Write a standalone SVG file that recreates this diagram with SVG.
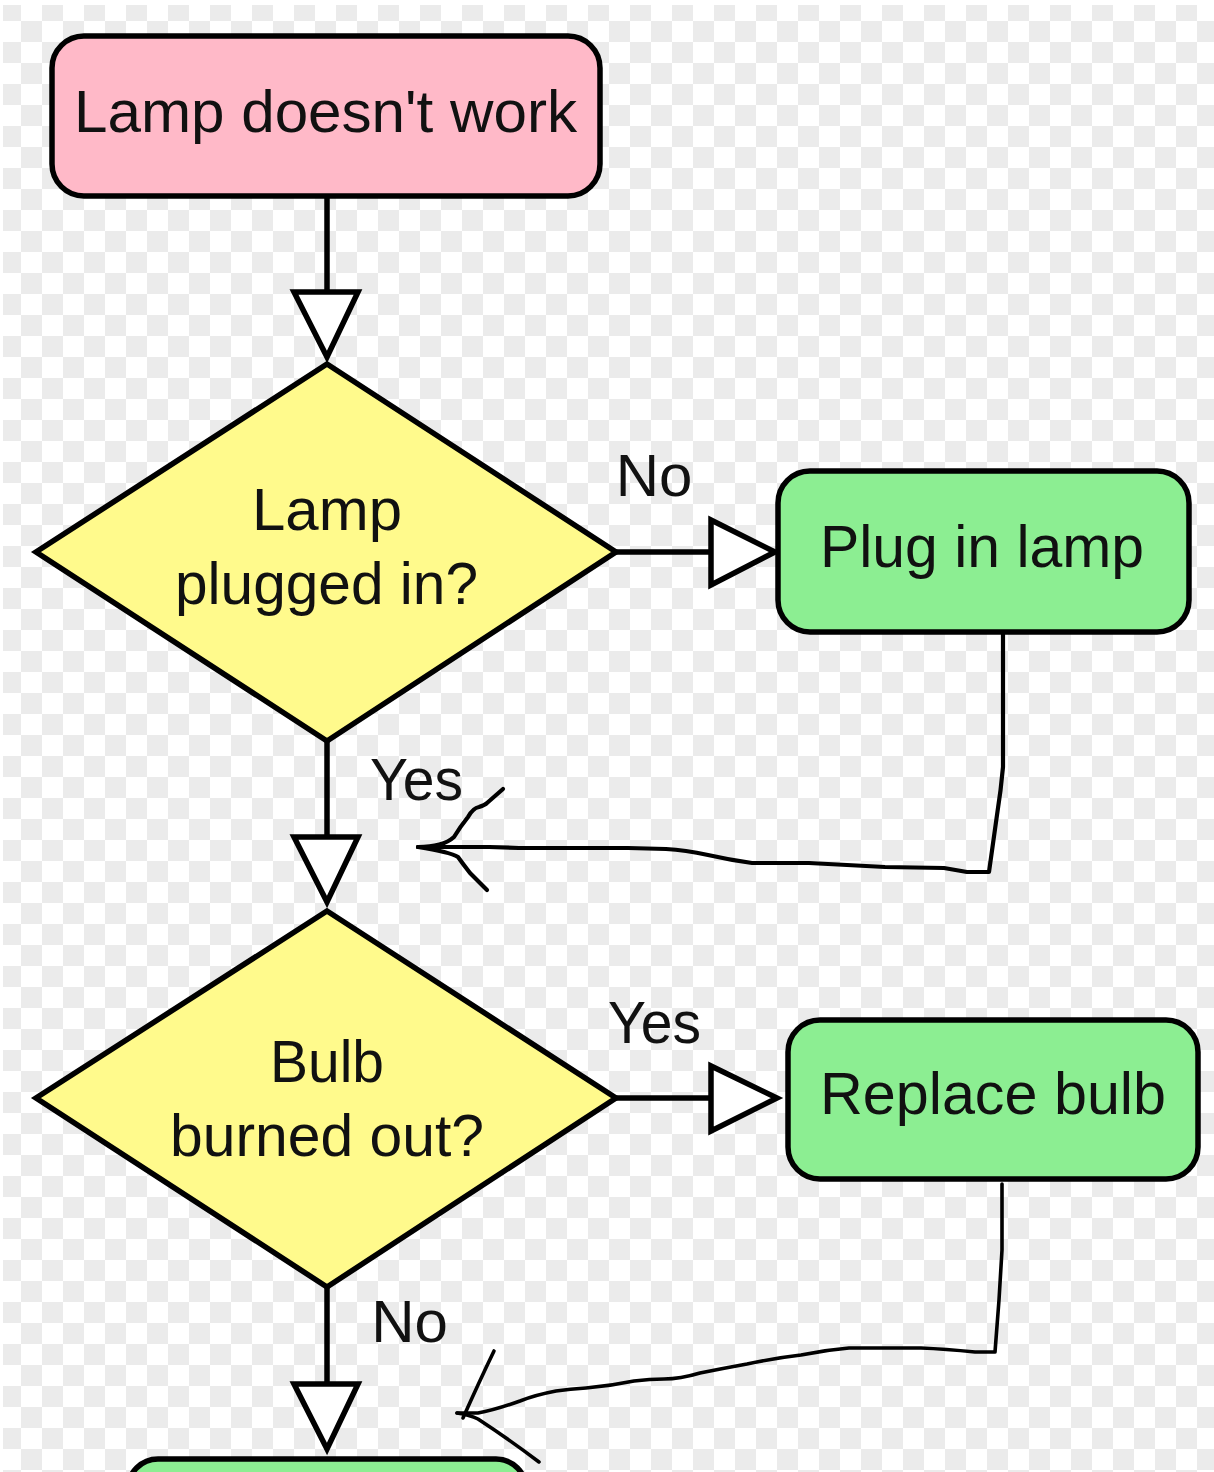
<svg xmlns="http://www.w3.org/2000/svg" width="1214" height="1472" viewBox="0 0 1214 1472">
<style>
.box{stroke:#000;stroke-width:5.5}
.start{fill:#ffb9c8}
.end{fill:#8cee92}
.dec{fill:#fffa8c}
.t{font-family:"Liberation Sans",Arial,sans-serif;font-size:60px;fill:#111;text-anchor:middle}
.wire{fill:none;stroke:#000;stroke-width:5.5}
.head{fill:#fff;stroke:#000;stroke-width:5.5}
.hand{fill:none;stroke:#000;stroke-width:4.2;stroke-linecap:round;stroke-linejoin:round}
.hand2{fill:none;stroke:#000;stroke-width:3.6;stroke-linecap:round;stroke-linejoin:round}
</style>
<defs>
<pattern id="checker" width="42" height="42" patternUnits="userSpaceOnUse">
<rect width="42" height="42" fill="#fff"/>
<rect width="21" height="21" fill="#ebebeb"/>
<rect x="21" y="21" width="21" height="21" fill="#ebebeb"/>
</pattern>
</defs>
<rect width="1214" height="1472" fill="#fff"/>
<rect x="3" y="5" width="1211" height="1467" fill="url(#checker)"/>
<g id="connectors">
<path class="wire" d="M327 196V292"/>
<polygon class="head" points="294,292 358,292 327,357"/>
<path class="wire" d="M616 552H711"/>
<polygon class="head" points="711,520 711,585 775,552"/>
<path class="wire" d="M327 741V837"/>
<polygon class="head" points="294,837 358,837 327,902"/>
<path class="wire" d="M616 1098H711"/>
<polygon class="head" points="711,1066 711,1131 777,1098"/>
<path class="wire" d="M327 1287V1384"/>
<polygon class="head" points="294,1384 358,1384 327,1449"/>
<path class="hand" d="M1003 634V767Q1001 790 997 815L989 872H967L944 868L885 867L809 863H752Q730 860 708 855Q685 850 666 849L628 848H519L489 847L418 847"/>
<path class="hand" d="M418 847Q443 847 454 837Q460 827 468 817Q473 808 479 807Q485 805 487 803L503 789"/>
<path class="hand" d="M418 847Q450 852 458 857Q463 864 470 873L487 890"/>
<path class="hand2" d="M1002 1184V1250L999 1300L995 1352L975 1352Q945 1349 921 1348H849Q825 1350 801 1355Q775 1358 747 1364Q725 1368 700 1373Q680 1379 664 1379Q650 1379 634 1381Q610 1386 586 1388Q570 1389 556 1391Q535 1395 520 1401Q495 1410 478 1413L457 1413"/>
<path class="hand2" d="M494 1351Q480 1380 463 1418"/>
<path class="hand2" d="M457 1413Q470 1415 478 1419Q510 1440 539 1462"/>
</g>
<g id="start-node">
<rect class="box start" x="52" y="36" width="548" height="160" rx="32"/>
<text class="t" x="325.500" y="132" textLength="503" lengthAdjust="spacingAndGlyphs">Lamp doesn't work</text>
</g>
<g id="decision-plugged">
<polygon class="box dec" points="327,364 616,552 327,741 36,552"/>
<text class="t" x="327" y="530" textLength="150" lengthAdjust="spacingAndGlyphs">Lamp</text>
<text class="t" x="326.500" y="604" textLength="303" lengthAdjust="spacingAndGlyphs">plugged in?</text>
</g>
<g id="action-plug">
<rect class="box end" x="778" y="471" width="411" height="161" rx="32"/>
<text class="t" x="982" y="567" textLength="324" lengthAdjust="spacingAndGlyphs">Plug in lamp</text>
</g>
<g id="decision-bulb">
<polygon class="box dec" points="327,911 616,1098 327,1287 36,1098"/>
<text class="t" x="327" y="1082" textLength="114" lengthAdjust="spacingAndGlyphs">Bulb</text>
<text class="t" x="327" y="1156" textLength="314" lengthAdjust="spacingAndGlyphs">burned out?</text>
</g>
<g id="action-replace">
<rect class="box end" x="788" y="1020" width="410" height="159" rx="32"/>
<text class="t" x="993" y="1114" textLength="346" lengthAdjust="spacingAndGlyphs">Replace bulb</text>
</g>
<g id="action-bottom">
<rect class="box end" x="128" y="1459" width="398" height="60" rx="30"/>
</g>
<g id="labels">
<text class="t" x="654" y="496">No</text>
<text class="t" x="416.500" y="800" textLength="93" lengthAdjust="spacingAndGlyphs">Yes</text>
<text class="t" x="654.500" y="1043" textLength="93" lengthAdjust="spacingAndGlyphs">Yes</text>
<text class="t" x="409.500" y="1342">No</text>
</g>
</svg>
